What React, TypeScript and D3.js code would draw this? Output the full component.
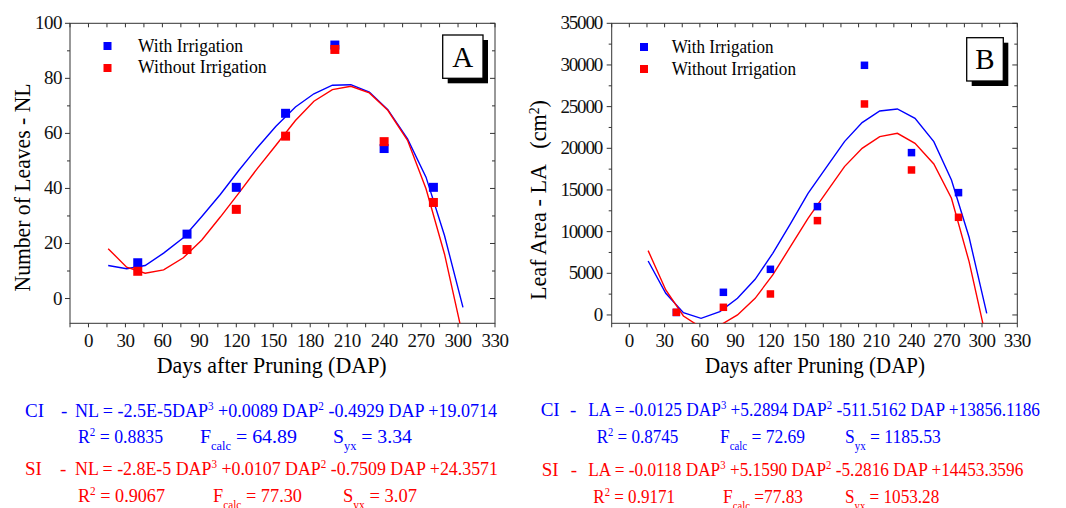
import React from "react";
import * as d3 from "d3";

// measured points (days after pruning)
const dapPoints = [40, 80, 120, 160, 200, 240, 280];
const nlWith = [13.0, 23.4, 40.4, 67.3, 92.1, 54.5, 40.4];
const nlWithout = [9.9, 17.8, 32.4, 59.0, 90.5, 57.0, 34.9];
const laWith = [300, 2720, 5480, 13000, 29960, 19480, 14680];
const laWithout = [320, 920, 2520, 11320, 25320, 17400, 11720];

// fitted curves
const curveDap = [16, 31, 46, 61, 77, 92, 107, 122, 137, 152, 168, 183, 198, 213, 228, 243, 259, 274, 289, 304];
const nlFitWith = [12.0, 10.8, 12.0, 16.5, 22.1, 29.8, 37.8, 46.5, 54.8, 62.5, 69.6, 74.4, 77.5, 77.7, 75.0, 68.6, 58.0, 44.1, 22.9, -3.2];
const nlFitWithout = [18.1, 11.4, 9.2, 10.4, 14.8, 21.3, 29.6, 38.3, 47.2, 55.6, 64.7, 71.7, 75.9, 77.1, 74.7, 68.4, 57.5, 39.9, 16.2, -14];
const laFitWith = [6480, 2600, 280, -400, 400, 2000, 4280, 7400, 10920, 14600, 17800, 20800, 23080, 24480, 24720, 23600, 20800, 16200, 9320, 200];
const laFitWithout = [7720, 3000, -120, -1500, -1250, 0, 2000, 4800, 8200, 11600, 14800, 17800, 20000, 21400, 21800, 20600, 18120, 14000, 6400, -3100];

// axis ticks
const xTicks = [0, 30, 60, 90, 120, 150, 180, 210, 240, 270, 300, 330];
const xMinor = [-15, 15, 45, 75, 105, 135, 165, 195, 225, 255, 285, 315];
const nlTicks = [0, 20, 40, 60, 80, 100];
const nlMinor = [10, 30, 50, 70, 90];
const laTicks = [0, 5000, 10000, 15000, 20000, 25000, 30000, 35000];
const laMinor = [2500, 7500, 12500, 17500, 22500, 27500, 32500];

const BLUE = "#0000ff";
const RED = "#ff0000";
const serif = "Liberation Serif, Times New Roman, serif";

type Part = [string, "n" | "sup" | "sub"];

function Rich({ x, y, len, color, size = 19, parts, anchor, transform }: any) {
  let off = 0;
  return (
    <text
      x={x}
      y={y}
      fill={color}
      fontSize={size}
      textLength={len}
      lengthAdjust="spacingAndGlyphs"
      textAnchor={anchor}
      transform={transform}
      style={{ whiteSpace: "pre" }}
    >
      {parts.map((p: Part, i: number) => {
        const target = p[1] === "sup" ? -7 : p[1] === "sub" ? 7 : 0;
        const dy = target - off;
        off = target;
        return (
          <tspan key={i} dy={dy} fontSize={p[1] === "n" ? size : size * 0.62}>
            {p[0]}
          </tspan>
        );
      })}
    </text>
  );
}

function Panel(props: any) {
  const { id, frame, yDomain, yMajor, yMinor, yLabelX, ySpacing, withV, withoutV, fitWith, fitWithout, ms } = props;
  const x = d3.scaleLinear().domain([-15, 330]).range([frame.left, frame.right]);
  const y = d3.scaleLinear().domain(yDomain).range([frame.bottom, frame.top]);
  const line = d3
    .line<number>()
    .x((d, i) => x(curveDap[i]))
    .y((d) => y(d));
  const axis = "#333";
  return (
    <g>
      <defs>
        <clipPath id={"clip" + id}>
          <rect x={frame.left} y={frame.top} width={frame.right - frame.left} height={frame.bottom - frame.top} />
        </clipPath>
      </defs>
      <rect x={frame.left} y={frame.top} width={frame.right - frame.left} height={frame.bottom - frame.top} fill="none" stroke={axis} strokeWidth={1} />
      {xTicks.concat(xMinor).map((v) => (
        <g key={"x" + v} stroke={axis}>
          <line x1={x(v)} x2={x(v)} y1={frame.bottom} y2={frame.bottom + 4} />
          <line x1={x(v)} x2={x(v)} y1={frame.top} y2={frame.top + 4} />
        </g>
      ))}
      {yMajor.map((v: number) => (
        <g key={"y" + v} stroke={axis}>
          <line x1={frame.left - 5} x2={frame.left} y1={y(v)} y2={y(v)} />
          <line x1={frame.right - 5} x2={frame.right} y1={y(v)} y2={y(v)} />
        </g>
      ))}
      {yMinor.map((v: number) => (
        <g key={"ym" + v} stroke={axis}>
          <line x1={frame.left - 3} x2={frame.left} y1={y(v)} y2={y(v)} />
          <line x1={frame.right - 3} x2={frame.right} y1={y(v)} y2={y(v)} />
        </g>
      ))}
      {xTicks.map((v) => (
        <text key={"xl" + v} x={x(v)} y={346.5} fontSize={19} textAnchor="middle" fill="#111" letterSpacing={-0.5}>
          {v}
        </text>
      ))}
      {yMajor.map((v: number) => (
        <text key={"yl" + v} x={yLabelX} y={y(v) + 6} fontSize={19} textAnchor="end" fill="#111" letterSpacing={ySpacing}>
          {v}
        </text>
      ))}
      <g clipPath={`url(#clip${id})`} fill="none" strokeWidth={1.4}>
        <path d={line(fitWith) || ""} stroke={BLUE} />
        <path d={line(fitWithout) || ""} stroke={RED} />
      </g>
      {withV.map((v: number, i: number) => (
        <rect key={"b" + i} x={x(dapPoints[i]) - ms / 2} y={y(v) - ms / 2} width={ms} height={ms} fill={BLUE} />
      ))}
      {withoutV.map((v: number, i: number) => (
        <rect key={"r" + i} x={x(dapPoints[i]) - ms / 2} y={y(v) - ms / 2} width={ms} height={ms} fill={RED} />
      ))}
    </g>
  );
}

function Badge({ x, y, w, h, label }: any) {
  return (
    <g>
      <rect x={x + 5} y={y + 5} width={w} height={h} fill="#000" />
      <rect x={x} y={y} width={w} height={h} fill="#fff" stroke="#000" strokeWidth={1.3} />
      <text x={x + w / 2} y={y + h / 2 + 10} fontSize={29} textAnchor="middle">
        {label}
      </text>
    </g>
  );
}

export default function App() {
  const frameA = { left: 70, right: 495, top: 23.3, bottom: 323.3 };
  const frameB = { left: 611.7, right: 1017.3, top: 23.3, bottom: 323.3 };
  return (
    <svg
      width={1066}
      height={508}
      style={{ position: "absolute", left: 0, top: 0, background: "#fff", fontFamily: serif }}
    >
      <rect width={1066} height={508} fill="#fff" />
      <Panel id="A" frame={frameA} yDomain={[-9, 100]} yMajor={nlTicks} yMinor={nlMinor} yLabelX={62} ySpacing={-0.5}
        withV={nlWith} withoutV={nlWithout} fitWith={nlFitWith} fitWithout={nlFitWithout} ms={9} />
      <Panel id="B" frame={frameB} yDomain={[-1000, 35000]} yMajor={laTicks} yMinor={laMinor} yLabelX={602} ySpacing={-1.2}
        withV={laWith} withoutV={laWithout} fitWith={laFitWith} fitWithout={laFitWithout} ms={7.5} />

      {/* legends */}
      <rect x={103.5} y={42} width={8} height={8} fill={BLUE} />
      <rect x={103.5} y={64} width={8} height={8} fill={RED} />
      <text x={138} y={52} fontSize={19} textLength={105} lengthAdjust="spacingAndGlyphs">With Irrigation</text>
      <text x={138} y={73} fontSize={19} textLength={128.7} lengthAdjust="spacingAndGlyphs">Without Irrigation</text>
      <rect x={640} y={43} width={8} height={8} fill={BLUE} />
      <rect x={640} y={65} width={8} height={8} fill={RED} />
      <text x={671.7} y={53} fontSize={19} textLength={101.7} lengthAdjust="spacingAndGlyphs">With Irrigation</text>
      <text x={671.7} y={75} fontSize={19} textLength={124.3} lengthAdjust="spacingAndGlyphs">Without Irrigation</text>

      <Badge x={442.7} y={35} w={40.3} h={43.3} label="A" />
      <Badge x={966.7} y={37.7} w={36.6} h={43.3} label="B" />

      {/* axis titles */}
      <text x={271.7} y={373} fontSize={23} textAnchor="middle" textLength={230} lengthAdjust="spacingAndGlyphs">
        Days after Pruning (DAP)
      </text>
      <text x={815} y={373} fontSize={23} textAnchor="middle" textLength={220} lengthAdjust="spacingAndGlyphs">
        Days after Pruning (DAP)
      </text>
      <text transform="translate(29.5,187.5) rotate(-90)" fontSize={23} textAnchor="middle" textLength={208} lengthAdjust="spacingAndGlyphs">
        Number of Leaves - NL
      </text>
      <Rich x={0} y={0} transform="translate(545.5,200) rotate(-90)" anchor="middle" size={23} len={200} color="#000"
        parts={[["Leaf Area - LA   (cm", "n"], ["2", "sup"], [")", "n"]]} />

      {/* equations, panel A */}
      <g fill={BLUE} fontSize={19}>
        <text x={25} y={417}>CI</text>
        <text x={61} y={417}>-</text>
      </g>
      <Rich x={75} y={417} len={422} color={BLUE}
        parts={[["NL = -2.5E-5DAP", "n"], ["3", "sup"], [" +0.0089 DAP", "n"], ["2", "sup"], [" -0.4929 DAP +19.0714", "n"]]} />
      <Rich x={78} y={443.3} len={85} color={BLUE} parts={[["R", "n"], ["2", "sup"], [" = 0.8835", "n"]]} />
      <Rich x={200} y={443.3} len={97} color={BLUE} parts={[["F", "n"], ["calc", "sub"], [" = 64.89", "n"]]} />
      <Rich x={333} y={443.3} len={79} color={BLUE} parts={[["S", "n"], ["yx", "sub"], [" = 3.34", "n"]]} />
      <g fill={RED} fontSize={19}>
        <text x={25} y={475}>SI</text>
        <text x={60} y={475}>-</text>
      </g>
      <Rich x={75} y={475} len={423} color={RED}
        parts={[["NL = -2.8E-5 DAP", "n"], ["3", "sup"], [" +0.0107 DAP", "n"], ["2", "sup"], [" -0.7509 DAP +24.3571", "n"]]} />
      <Rich x={78} y={501.7} len={87} color={RED} parts={[["R", "n"], ["2", "sup"], [" = 0.9067", "n"]]} />
      <Rich x={213} y={501.7} len={89} color={RED} parts={[["F", "n"], ["calc", "sub"], [" = 77.30", "n"]]} />
      <Rich x={343} y={501.7} len={74} color={RED} parts={[["S", "n"], ["yx", "sub"], [" = 3.07", "n"]]} />

      {/* equations, panel B */}
      <g fill={BLUE} fontSize={19}>
        <text x={540.7} y={416}>CI</text>
        <text x={570} y={416}>-</text>
      </g>
      <Rich x={588.3} y={416} len={451.7} color={BLUE}
        parts={[["LA = -0.0125 DAP", "n"], ["3", "sup"], [" +5.2894 DAP", "n"], ["2", "sup"], [" -511.5162 DAP +13856.1186", "n"]]} />
      <Rich x={596.7} y={443.3} len={81.6} color={BLUE} parts={[["R", "n"], ["2", "sup"], [" = 0.8745", "n"]]} />
      <Rich x={720} y={443.3} len={85} color={BLUE} parts={[["F", "n"], ["calc", "sub"], [" = 72.69", "n"]]} />
      <Rich x={845} y={443.3} len={95.7} color={BLUE} parts={[["S", "n"], ["yx", "sub"], [" = 1185.53", "n"]]} />
      <g fill={RED} fontSize={19}>
        <text x={541.7} y={476}>SI</text>
        <text x={570.7} y={476}>-</text>
      </g>
      <Rich x={588.3} y={476} len={435} color={RED}
        parts={[["LA = -0.0118 DAP", "n"], ["3", "sup"], [" +5.1590 DAP", "n"], ["2", "sup"], [" -5.2816 DAP +14453.3596", "n"]]} />
      <Rich x={593.3} y={502.7} len={81.7} color={RED} parts={[["R", "n"], ["2", "sup"], [" = 0.9171", "n"]]} />
      <Rich x={723} y={502.7} len={80} color={RED} parts={[["F", "n"], ["calc", "sub"], [" =77.83", "n"]]} />
      <Rich x={845} y={502.7} len={94.3} color={RED} parts={[["S", "n"], ["yx", "sub"], [" = 1053.28", "n"]]} />
    </svg>
  );
}
